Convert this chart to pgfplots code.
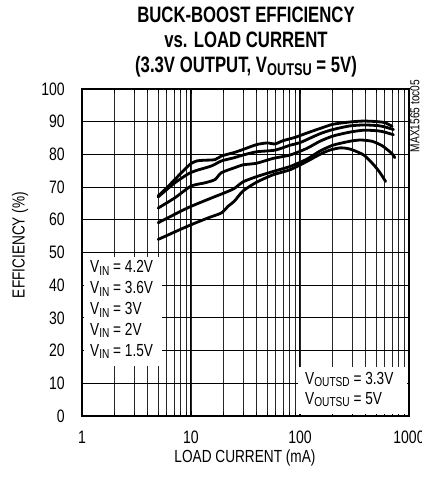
\documentclass[border=0pt]{standalone}
\usepackage{pgfplots}
\pgfplotsset{compat=1.18}
\usepackage{fontspec}
\setmainfont{Liberation Sans}[FakeStretch=0.78]
\newfontfamily\titlefont{Liberation Sans}[FakeStretch=0.75]
\newcommand{\sub}[1]{\raisebox{-0.3ex}{\fontsize{13}{13}\selectfont #1}}
\newcommand{\tsub}[1]{\raisebox{-0.25ex}{\fontsize{17}{17}\selectfont #1}}
\pgfplotsset{
 mycurve/.style={black, line width=2.8pt, line join=round, line cap=round, smooth, tension=0.4, mark=none},
}
\pgfplotstableread{
x y
5 67.3
6 69.8
7.1 72.3
8.5 75
10 77.2
11.3 78
13 78.2
16.6 78.4
19 79.5
25 80.6
30 81.5
40 83
50 83.5
59 83.2
70 84.2
90 85.2
115 86.5
152 87.9
200 89.2
285 89.9
385 90.2
520 90
600 89.7
700 88.6
}\vA
\pgfplotstableread{
x y
5 67
7.1 71.3
9.4 74
11 75
15.5 76.5
19 78
25 79
30 79.8
40 80.8
59 81.3
81 82.8
100 83.6
152 86.3
200 87.6
285 88.7
385 89
520 88.8
600 88.4
720 87.6
}\vB
\pgfplotstableread{
x y
5 63.6
7.1 66.7
10 70.3
13.4 71.3
16.6 72.3
19 74.4
25 75.9
30 76.8
40 77.3
57 78.8
81 79.8
115 81.8
152 84
200 85.6
285 86.8
385 87.4
520 87.2
600 86.8
720 86
}\vC
\pgfplotstableread{
x y
5 59.1
9.4 63.7
15.5 66.7
20.5 68.3
25 69.6
30 71.6
40 73.2
57 74.8
81 76.3
115 78.5
152 81
200 82.8
285 84
360 84.4
460 84
570 82.6
700 80.2
740 79
}\vD
\pgfplotstableread{
x y
5 54
9.4 58.1
14.4 60.6
19 62.1
22 64.2
25 65.7
30 68.8
40 71.5
57 73.8
81 75.3
115 77.8
152 80
187 81.3
235 82
290 81.6
385 79.8
475 76.8
545 74.3
610 71.7
}\vE
\begin{document}
\begin{tikzpicture}
\begin{axis}[
 at={(0,0)}, anchor=south west,
 scale only axis, width=327pt, height=327pt,
 xmode=log, xmin=1, xmax=1000, ymin=0, ymax=100,
 ytick={0,10,20,30,40,50,60,70,80,90,100},
 xtick={1,10,100,1000}, xticklabels={1,10,100,1000},
 grid=both,
 major grid style={black, line width=1.0pt},
 minor grid style={black!85, line width=0.9pt},
 axis line style={line width=2.8pt, black},
 tick align=inside,
 major tick length=5pt, minor tick length=4pt,
 tick style={black, line width=0.9pt},
 ticklabel style={font=\fontsize{18}{18}\selectfont, /pgf/number format/assume math mode=true},
 yticklabel style={anchor=east, inner sep=0pt, xshift=-17pt},
 xticklabel style={anchor=north, inner sep=0pt, yshift=-15pt},
 clip=false,
]
\addplot[mycurve] table[x=x,y=y] {\vA};
\addplot[mycurve] table[x=x,y=y] {\vB};
\addplot[mycurve] table[x=x,y=y] {\vC};
\addplot[mycurve] table[x=x,y=y] {\vD};
\addplot[mycurve] table[x=x,y=y] {\vE};
\end{axis}
\fill[white] (1.6pt,50pt) rectangle (80pt,159pt);
\fill[white] (216pt,1.6pt) rectangle (325.4pt,49pt);
\begin{scope}[every node/.style={anchor=base west, inner sep=0pt, font=\fontsize{17.5}{18}\selectfont}]
\node at (8pt,143.6pt) {V\sub{IN} = 4.2V};
\node at (8pt,122.6pt) {V\sub{IN} = 3.6V};
\node at (8pt,101.7pt) {V\sub{IN} = 3V};
\node at (8pt,80.8pt) {V\sub{IN} = 2V};
\node at (8pt,59.8pt) {V\sub{IN} = 1.5V};
\node at (223pt,31.9pt) {V\sub{OUTSD} = 3.3V};
\node at (223pt,12pt) {V\sub{OUTSU} = 5V};
\end{scope}
\node[anchor=base, inner sep=0pt, font=\titlefont\bfseries\fontsize{22.3}{24}\selectfont] at (164pt,393.3pt) {BUCK-BOOST EFFICIENCY};
\node[anchor=base, inner sep=0pt, font=\titlefont\bfseries\fontsize{22.3}{24}\selectfont] at (164pt,368.7pt) {vs. LOAD CURRENT};
\node[anchor=base, inner sep=0pt, font=\titlefont\bfseries\fontsize{22.3}{24}\selectfont] at (164pt,343.5pt) {(3.3V OUTPUT, V\tsub{OUTSU} = 5V)};
\node[rotate=90, inner sep=0pt, font=\fontsize{17.5}{18}\selectfont] at (-62pt,171pt) {EFFICIENCY (\%)};
\node[inner sep=0pt, font=\fontsize{17.5}{18}\selectfont] at (163pt,-42pt) {LOAD CURRENT (mA)};
\node[rotate=90, inner sep=0pt, font=\fontsize{13}{14}\selectfont] at (333pt,300pt) {MAX1565 toc05};
\pgfresetboundingbox
\useasboundingbox (-82pt,-63pt) rectangle (340pt,416pt);
\end{tikzpicture}
\end{document}
